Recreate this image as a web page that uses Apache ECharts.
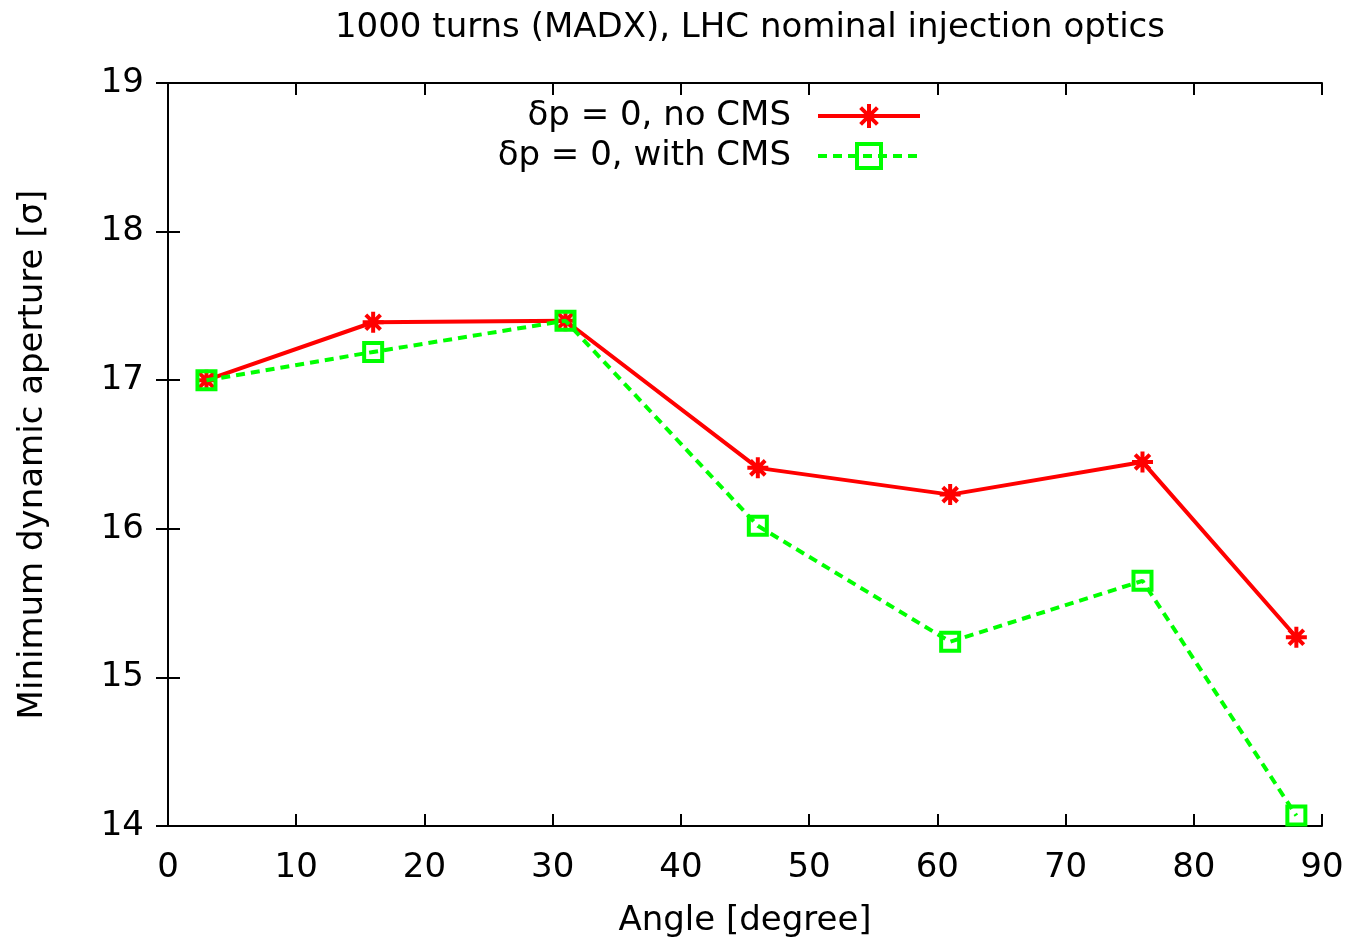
<!DOCTYPE html>
<html>
<head>
<meta charset="utf-8">
<script src="https://cdn.jsdelivr.net/npm/echarts@6/dist/echarts.min.js"></script>
<style>
html,body{margin:0;padding:0;background:#fff;}
#chart{width:1351px;height:943px;}
</style>
</head>
<body>
<div id="chart"></div>
<script>
const angles = [3, 16, 31, 46, 61, 76, 88];
const noCMS = [17.0, 17.39, 17.4, 16.41, 16.23, 16.45, 15.27];
const withCMS = [17.0, 17.19, 17.4, 16.02, 15.24, 15.65, 14.07];
const seriesNames = ['\u03b4p = 0, no CMS', '\u03b4p = 0, with CMS'];
const titleText = '1000 turns (MADX), LHC nominal injection optics';
const xName = 'Angle [degree]';
const yName = 'Minimum dynamic aperture [\u03c3]';

const FONT = '"DejaVu Sans", "Liberation Sans", Arial, sans-serif';
const FS = 34;
const starPath = 'path://M10,0 L10,20 M0,10 L20,10 M3,3 L17,17 M3,17 L17,3';

const chart = echarts.init(document.getElementById('chart'));
const axisCommon = {
  axisLine: {show: true, lineStyle: {color: '#000', width: 2}},
  axisTick: {show: true, inside: true, length: 12, lineStyle: {color: '#000', width: 2}},
  splitLine: {show: false}
};
chart.setOption({
  animation: false,
  backgroundColor: '#fff',
  title: {
    text: titleText, left: 745, top: 6, textAlign: 'center',
    textStyle: {fontFamily: FONT, fontSize: FS, fontWeight: 'normal', color: '#000'}
  },
  grid: {left: 168, right: 29, top: 83, bottom: 116},
  legend: {
    orient: 'vertical', align: 'right', right: 429, top: 99, padding: 0,
    itemWidth: 102, itemHeight: 30, itemGap: 6,
    lineStyle: {width: 4},
    itemStyle: {borderWidth: 4},
    textStyle: {fontFamily: FONT, fontSize: FS, color: '#000', padding: [0, 22, 0, 0]},
    data: seriesNames
  },
  xAxis: [
    Object.assign({
      type: 'value', min: 0, max: 90, interval: 10, position: 'bottom',
      name: xName, nameLocation: 'middle', nameGap: 78,
      nameTextStyle: {fontFamily: FONT, fontSize: FS, color: '#000'},
      axisLabel: {fontFamily: FONT, fontSize: FS, color: '#000', margin: 25}
    }, axisCommon),
    Object.assign({
      type: 'value', min: 0, max: 90, interval: 10, position: 'top',
      axisLabel: {show: false}
    }, axisCommon)
  ],
  yAxis: [
    Object.assign({
      type: 'value', min: 14, max: 19, interval: 1, position: 'left',
      name: yName, nameLocation: 'middle', nameGap: 118,
      nameTextStyle: {fontFamily: FONT, fontSize: FS, color: '#000'},
      axisLabel: {fontFamily: FONT, fontSize: FS, color: '#000', margin: 24}
    }, axisCommon),
    Object.assign({
      type: 'value', min: 14, max: 19, interval: 1, position: 'right',
      axisLabel: {show: false}
    }, axisCommon)
  ],
  series: [
    {
      name: seriesNames[0], type: 'line',
      data: angles.map((a, i) => [a, noCMS[i]]),
      symbol: starPath, symbolSize: 21,
      lineStyle: {color: '#ff0000', width: 4},
      itemStyle: {color: '#ff0000', borderColor: '#ff0000', borderWidth: 4},
      z: 2
    },
    {
      name: seriesNames[1], type: 'line',
      data: angles.map((a, i) => [a, withCMS[i]]),
      symbol: 'rect', symbolSize: 18,
      lineStyle: {color: '#00ff00', width: 4, type: [9, 6]},
      itemStyle: {color: 'rgba(0,0,0,0)', borderColor: '#00ff00', borderWidth: 4},
      z: 3
    }
  ]
});
</script>
</body>
</html>
